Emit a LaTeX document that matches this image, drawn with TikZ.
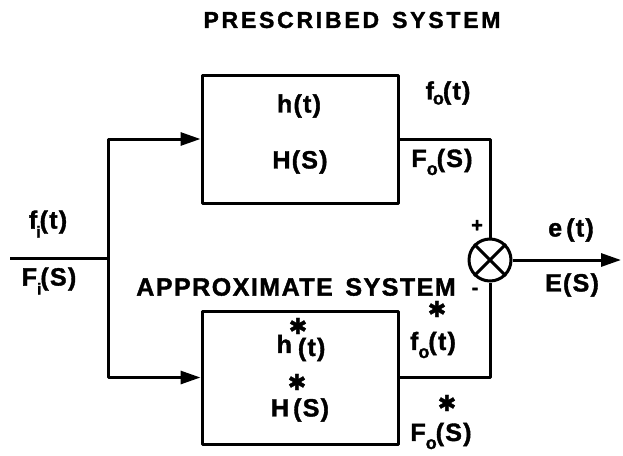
\documentclass[tikz,border=0pt]{standalone}
\usepackage{fontspec}
\setmainfont{Liberation Sans}
\newfontfamily\symf{DejaVu Sans}
\usetikzlibrary{arrows.meta}
\begin{document}
\begin{tikzpicture}[x=1pt,y=-1pt, line width=3pt,
  blk/.style={draw, minimum width=196pt, inner sep=0pt, line join=round},
  lbl/.style={font=\fontsize{25}{25}\selectfont\bfseries\addfontfeatures{LetterSpace=5,FakeBold=1.5}, inner sep=0pt},
  ttl/.style={font=\fontsize{23}{23}\selectfont\bfseries\addfontfeatures{LetterSpace=12,FakeBold=1.5}, inner sep=0pt},
  ttlb/.style={font=\fontsize{25}{25}\selectfont\bfseries\addfontfeatures{LetterSpace=6,FakeBold=1.5}, inner sep=0pt},
  ast/.style={font=\symf\fontsize{22}{22}\selectfont\bfseries\addfontfeatures{FakeBold=2}, inner sep=0pt},
  sgn/.style={font=\fontsize{20}{20}\selectfont\bfseries\addfontfeatures{FakeBold=1.5}, inner sep=0pt},
  arr/.style={-{Triangle[length=20pt,width=13pt]}},
  line/.style={line join=round}]
\useasboundingbox (0,0) rectangle (623,455);

% blocks
\node[blk, minimum height=128pt] (top) at (300,139) {};
\node[blk, minimum height=133pt] (bot) at (300,377.5) {};
\node[draw, circle, minimum size=42pt, inner sep=0pt] (sum) at (490,260) {};
\draw (sum.north west) -- (sum.south east);
\draw (sum.north east) -- (sum.south west);

% connectors
\coordinate (in) at (10,258);
\coordinate (split) at (108,258);
\coordinate (out) at (621,260);
\draw[line] (in) -- (split);
\draw[line, arr] (split) |- (top.west);
\draw[line, arr] (split) |- (bot.west);
\draw[line] (top.east) -| (sum.north);
\draw[line] (bot.east) -| (sum.south);
\draw[arr] (sum.east) -- (out);

% titles
\node[ttl] (t1) at (352,20) {PRESCRIBED\, SYSTEM};
\node[ttlb] (t2) at (296,287) {APPROXIMATE\, SYSTEM};

% input labels
\node[lbl] (fi) at (48,224) {f\kern-1pt\raisebox{-9pt}{\fontsize{16}{16}\selectfont i}\kern-1pt(t)};
\node[lbl] (Fi) at (49,281) {F\kern0pt\raisebox{-9pt}{\fontsize{16}{16}\selectfont i}\kern-1pt(S)};

% top block
\node[lbl] (ht) at (299,106) {h(t)};
\node[lbl] (Hs) at (300,162) {H(S)};
\node[lbl] (fo) at (448,93) {f\kern-1pt\raisebox{-5pt}{\fontsize{18}{18}\selectfont o}\kern-1pt(t)};
\node[lbl] (Fo) at (442,162) {F\kern0pt\raisebox{-8pt}{\fontsize{18}{18}\selectfont o}\kern-1pt(S)};

% sum labels
\node[sgn] (plus) at (477,226) {+};
\node[sgn] (minus) at (475,291) {-};
\node[lbl] (et) at (571,230) {e\,(t)};
\node[lbl] (Es) at (572,285) {E(S)};

% approximate block
\node[ast] (a1) at (298,326) {✱};
\node[lbl] (hat) at (301,348) {h\kern6pt\raisebox{-3pt}{(t)}};
\node[ast] (a2) at (297,382) {✱};
\node[lbl] (Has) at (300,410) {H\,(S)};
\node[ast] (a3) at (437,309) {✱};
\node[lbl] (fao) at (433,345) {f\kern0pt\raisebox{-8pt}{\fontsize{18}{18}\selectfont o}\kern-1pt(t)};
\node[ast] (a4) at (447,403) {✱};
\node[lbl] (Fao) at (441,436) {F\kern0pt\raisebox{-8pt}{\fontsize{18}{18}\selectfont o}\kern-1pt(S)};
\end{tikzpicture}
\end{document}
